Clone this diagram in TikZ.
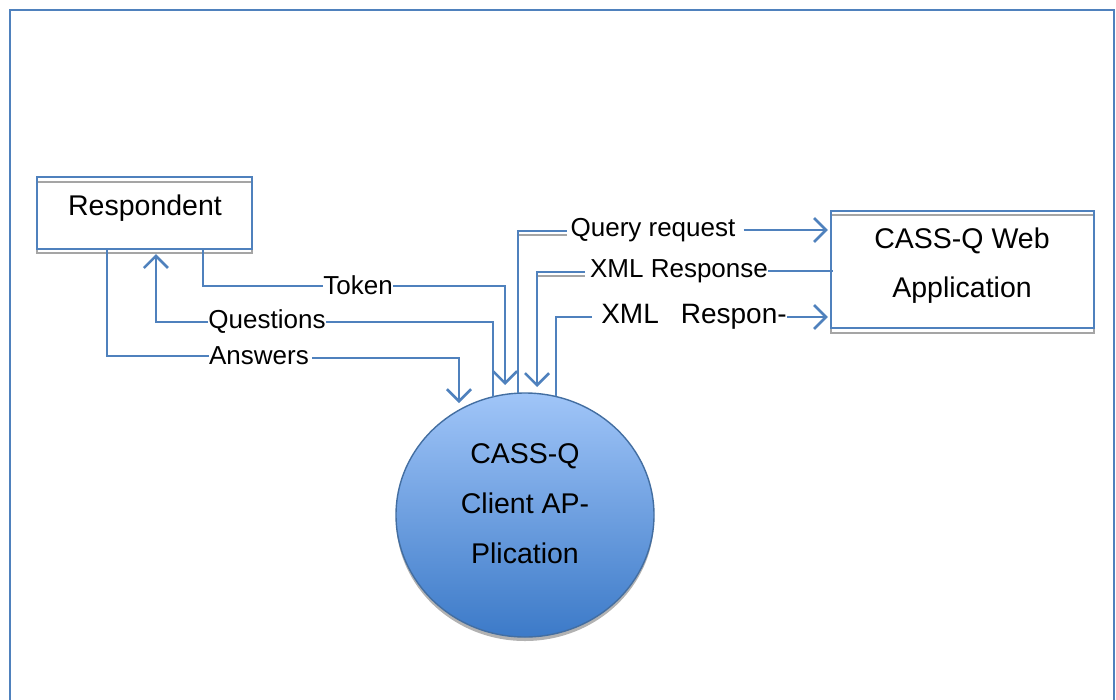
\documentclass[tikz,border=0pt]{standalone}
\usepackage{fontspec}
\setmainfont{Liberation Sans}
\usetikzlibrary{arrows.meta,calc,shapes.geometric}

\definecolor{flow}{RGB}{79,129,189}
\definecolor{greyline}{RGB}{165,165,165}
\definecolor{bubbletop}{RGB}{160,197,248}
\definecolor{bubblebot}{RGB}{60,122,200}

\tikzset{
  x=1pt, y=-1pt,
  entity/.style={draw=flow, line width=2.2pt, rectangle, inner sep=0pt},
  offsetline/.style={draw=greyline, line width=2pt},
  flowline/.style={draw=flow, line width=2.4pt},
  flowarrow/.style={flowline, -{Straight Barb[length=12pt,width=24pt,line width=2.6pt]}},
  big/.style={font=\fontsize{28.5}{34}\selectfont, inner sep=0pt},
  lbl/.style={font=\fontsize{26}{31}\selectfont, inner sep=0pt},
  lblbig/.style={font=\fontsize{28}{33}\selectfont, inner sep=0pt},
}

\begin{document}
\begin{tikzpicture}
\useasboundingbox (0,0) rectangle (1116,699);

% outer frame, open at the bottom edge of the page
\begin{scope}
\clip (0,0) rectangle (1116,699);
\draw[flow, line width=2.4pt] (10,720) -- (10,10) -- (1114,10) -- (1114,720);
\end{scope}

% external entities with their grey offset outlines
\draw[offsetline] (37,182) rectangle (252,253);
\node[entity, minimum width=215pt, minimum height=72pt] (resp) at (144.5,213) {};
\node[big] (resptext) at (145,208) {Respondent};

\draw[offsetline] (831,215) rectangle (1094,333);
\node[entity, minimum width=263pt, minimum height=117pt] (web) at (962.5,269.5) {};
\node[big, align=center] (webtext) at (962,266) {CASS-Q Web\\[15pt]Application};

% process bubble with shadow and gradient
\fill[greyline!85] (525,519) ellipse [x radius=129, y radius=122];
\node[ellipse, draw=flow!85!black, line width=1.4pt, top color=bubbletop,
      bottom color=bubblebot, minimum width=258pt, minimum height=244pt,
      inner sep=0pt] (client) at (525,515) {};
\node[big, align=center] (clienttext) at (525,504)
  {CASS-Q\\[16pt]Client AP-\\[16pt]Plication};

% points where flows meet the bubble
\coordinate (cQ) at ($(client.center)+(-32,-118)$);
\coordinate (cR) at ($(client.center)+(-7,-122)$);
\coordinate (cX) at ($(client.center)+(31,-119)$);

% Token
\node[lbl] (token) at (358,285) {Token};
\draw[flowline] ($(resp.south west)+(167,0)$) |- ($(token.west)+(0,1)$);
\draw[flowarrow] ($(token.east)+(0,1)$) -| ($(client.center)+(-20,-130)$);

% Questions
\node[lbl] (questions) at (267,322) {Questions};
\draw[flowline] (cQ) |- (questions.east);
\draw[flowarrow] (questions.west) -| ($(resp.south west)+(120,4)$);

% Answers
\node[lbl] (answers) at (259,356) {Answers};
\draw[flowline] ($(resp.south west)+(71,0)$) |- (answers.west);
\draw[flowarrow] ($(answers.east)+(3,2)$) -| ($(client.center)+(-66,-112)$);

% Query request
\node[lbl] (query) at (653,230) {Query request};
\draw[offsetline] ($(cR)+(0,-158)$) -- (567,235);
\draw[flowline] (cR) |- (567,231);
\draw[flowarrow] ($(query.east)+(8,0)$) -- ($(query.east -| web.west)+(-2,0)$);

% XML Response
\node[lbl] (xmlresp) at (679,271) {XML Response};
\draw[offsetline] (537,276) -- (585,276);
\draw[flowline] ($(xmlresp.east -| web.west)+(3,0)$) -- (xmlresp.east);
\draw[flowarrow] (585,272) -| ($(client.center)+(12,-128)$);

% XML Respon-
\node[lblbig] (xmlrespon) at (694,317) {XML\hspace{22pt}Respon-};
\draw[flowline] (cX) |- (592,317);
\draw[flowarrow] (xmlrespon.east) -- ($(xmlrespon.east -| web.west)+(-2,0)$);

\end{tikzpicture}
\end{document}
